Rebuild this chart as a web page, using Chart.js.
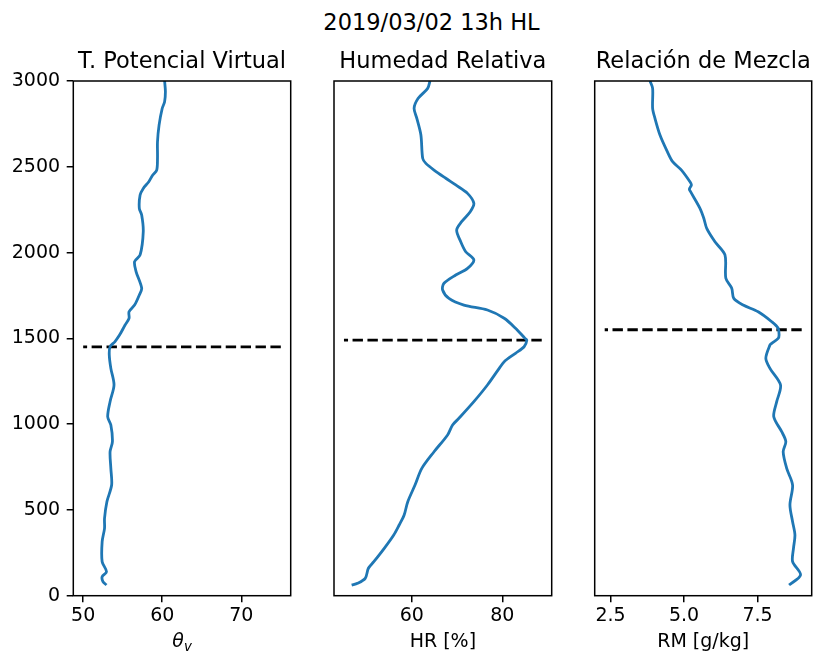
<!DOCTYPE html>
<html>
<head>
<meta charset="utf-8">
<script src="https://cdn.jsdelivr.net/npm/chart.js@4.4.1/dist/chart.umd.min.js"></script>
<style>
  body { margin: 0; background: #fff; }
  #fig { position: relative; width: 817px; height: 654px; }
  #fig canvas { position: absolute; top: 0; }
  #suptitle { position: absolute; left: 300px; width: 263px; top: 9px; text-align: center;
              font: 22.5px/27px "DejaVu Sans"; color: #000; }
</style>
</head>
<body>
<div id="fig">
  <div id="suptitle">2019/03/02 13h HL</div>
  <canvas id="tv" width="300" height="654" style="left:0"></canvas>
  <canvas id="hr" width="260" height="654" style="left:300px"></canvas>
  <canvas id="rm" width="257" height="654" style="left:560px"></canvas>
</div>
<script>
// heights (m) shared by the three soundings
const heightTicks = [0, 500, 1000, 1500, 2000, 2500, 3000];

// virtual potential temperature
const tvHeights = [3000, 2938, 2879, 2841, 2743, 2646, 2549, 2481, 2452, 2413, 2374, 2335, 2258, 2219,
  2122, 1986, 1947, 1888, 1792, 1753, 1694, 1655, 1617, 1578, 1519, 1480, 1451, 1403, 1325, 1228,
  1131, 1043, 995, 898, 839, 742, 645, 548, 451, 393, 315, 198, 140, 111, 82, 62];
const tvValues = [60.3, 60.4, 60.3, 60.0, 59.6, 59.4, 59.4, 59.3, 58.8, 58.3, 57.6, 57.2, 57.1, 57.4,
  57.6, 57.2, 56.5, 56.7, 57.4, 57.1, 56.5, 55.8, 55.8, 55.3, 54.6, 54.0, 53.4, 53.3, 53.5, 53.9,
  53.4, 53.1, 53.5, 53.7, 53.4, 53.5, 53.6, 53.0, 52.7, 52.7, 52.4, 52.4, 52.95, 52.4, 52.5, 52.95];
const tvTicks = [50, 60, 70];
const tvLayerTop = 1450;
const tvLayerSpan = [50, 75];

// relative humidity
const hrHeights = [3000, 2957, 2899, 2841, 2782, 2685, 2549, 2520, 2481, 2433, 2394, 2345, 2287, 2238,
  2180, 2131, 2063, 2005, 1957, 1908, 1869, 1821, 1782, 1733, 1694, 1665, 1617, 1559, 1500, 1490,
  1451, 1413, 1364, 1325, 1228, 1131, 1034, 995, 937, 839, 742, 645, 548, 470, 412, 354, 276, 198,
  160, 101, 72, 62];
const hrValues = [64.0, 63.5, 61.4, 60.5, 61.1, 62.0, 62.4, 63.1, 64.9, 67.5, 69.7, 72.3, 73.7, 72.9,
  71.0, 69.9, 70.8, 71.9, 73.7, 72.3, 69.7, 67.1, 66.8, 68.2, 71.5, 76.7, 80.4, 82.9, 85.0, 85.4,
  84.8, 82.9, 80.4, 79.3, 76.7, 73.7, 70.4, 69.0, 67.9, 64.9, 62.2, 60.7, 59.1, 58.3, 57.2, 56.0, 53.9,
  51.6, 50.4, 49.7, 48.0, 46.7];
const hrTicks = [60, 80];
const hrLayerTop = 1490;
const hrLayerSpan = [45.0, 88.7];

// mixing ratio
const rmHeights = [3000, 2957, 2841, 2782, 2685, 2588, 2530, 2481, 2413, 2394, 2370, 2355, 2258, 2200,
  2141, 2063, 1986, 1850, 1792, 1733, 1694, 1655, 1597, 1559, 1520, 1500, 1471, 1461, 1384, 1325,
  1228, 1131, 1043, 956, 898, 839, 742, 645, 529, 431, 354, 276, 198, 121, 62];
const rmValues = [3.84, 3.93, 3.93, 4.01, 4.18, 4.43, 4.61, 4.91, 5.20, 5.25, 5.18, 5.22, 5.54, 5.67,
  5.77, 6.05, 6.39, 6.42, 6.62, 6.69, 7.01, 7.52, 7.98, 8.20, 8.23, 8.20, 7.98, 7.92, 7.78, 7.92,
  8.28, 8.15, 8.05, 8.32, 8.46, 8.37, 8.49, 8.69, 8.60, 8.69, 8.77, 8.72, 8.69, 8.96, 8.57];
const rmTicks = [2.5, 5.0, 7.5];
const rmLayerTop = 1550;
const rmLayerSpan = [2.3, 9.0];

Chart.defaults.font.family = '"DejaVu Sans"';
Chart.defaults.color = '#000';

// axes box drawn over the curves
const frame = {
  id: 'frame',
  afterDatasetsDraw(chart) {
    const { ctx, chartArea: a } = chart;
    ctx.save();
    ctx.strokeStyle = '#000';
    ctx.lineWidth = 1.5;
    ctx.strokeRect(a.left, a.top, a.right - a.left, a.bottom - a.top);
    ctx.restore();
  }
};

// x label with a lowered subscript (θ with v below)
const subLabel = {
  id: 'subLabel',
  afterDraw(chart, args, opts) {
    if (!opts.base) return;
    const { ctx, chartArea: a } = chart;
    ctx.save();
    ctx.fillStyle = '#000';
    ctx.textBaseline = 'alphabetic';
    ctx.font = 'italic 19px "DejaVu Sans"';
    const wBase = ctx.measureText(opts.base).width;
    ctx.font = 'italic 13.3px "DejaVu Sans"';
    const wSub = ctx.measureText(opts.sub).width;
    const x0 = (a.left + a.right) / 2 - (wBase + wSub) / 2;
    ctx.font = 'italic 19px "DejaVu Sans"';
    ctx.fillText(opts.base, x0, 647);
    ctx.font = 'italic 13.3px "DejaVu Sans"';
    ctx.fillText(opts.sub, x0 + wBase, 650.5);
    ctx.restore();
  }
};

const tickGrid = { drawOnChartArea: false, drawTicks: true, tickLength: 6.6, color: '#000', lineWidth: 1.5 };

function profile(id, p) {
  const curve = p.heights.map((h, i) => ({ x: p.values[i], y: h }));
  // drawn right to left so the dash pattern starts on the right
  const layer = [{ x: p.span[1], y: p.layer }, { x: p.span[0], y: p.layer }];
  return new Chart(document.getElementById(id), {
    type: 'line',
    data: {
      datasets: [
        { data: curve, borderColor: '#1f77b4', borderWidth: 2.8, pointRadius: 0, tension: 0.3 },
        { data: layer, borderColor: '#000', borderWidth: 2.8, borderDash: [10.4, 4.5], pointRadius: 0, tension: 0 }
      ]
    },
    options: {
      responsive: false,
      animation: false,
      devicePixelRatio: 1,
      layout: { padding: { left: p.padLeft, right: p.padRight, top: 0, bottom: 0 } },
      plugins: {
        legend: { display: false },
        tooltip: { enabled: false },
        title: {
          display: true, text: p.title, fullSize: false, color: '#000',
          font: { size: 22.5, weight: 'normal', lineHeight: 1.2 },
          padding: { top: 48.3, bottom: 5.7 }
        },
        subLabel: p.subLabel || {}
      },
      scales: {
        x: {
          type: 'linear', min: p.xMin, max: p.xMax,
          afterBuildTicks: s => { s.ticks = p.ticks.map(v => ({ value: v })); },
          afterFit: s => { s.height = 58.3; },
          grid: tickGrid,
          border: { display: false },
          ticks: { padding: 2.3, font: { size: 19 }, color: '#000', maxRotation: 0, callback: p.fmt },
          title: {
            display: !!p.xLabel, text: p.xLabel, color: '#000',
            font: { size: 19, lineHeight: 1.2 },
            padding: { top: 0, bottom: 0.6 }
          }
        },
        y: {
          type: 'linear', min: 0, max: 3000, display: p.showY,
          afterBuildTicks: s => { s.ticks = heightTicks.map(v => ({ value: v })); },
          afterFit: s => { s.width = p.showY ? 73.3 : 0; },
          grid: tickGrid,
          border: { display: false },
          ticks: { padding: 6.6, font: { size: 19 }, color: '#000', callback: v => String(v) }
        }
      }
    },
    plugins: [frame, subLabel]
  });
}

profile('tv', {
  heights: tvHeights, values: tvValues, ticks: tvTicks, layer: tvLayerTop, span: tvLayerSpan,
  title: 'T. Potencial Virtual', xLabel: '', subLabel: { base: 'θ', sub: 'v' }, showY: true,
  xMin: 48.75, xMax: 76.25, padLeft: 0, padRight: 9.3, fmt: v => String(v)
});
profile('hr', {
  heights: hrHeights, values: hrValues, ticks: hrTicks, layer: hrLayerTop, span: hrLayerSpan,
  title: 'Humedad Relativa', xLabel: 'HR [%]', showY: false,
  xMin: 42.8, xMax: 90.9, padLeft: 34, padRight: 8.3, fmt: v => String(v)
});
profile('rm', {
  heights: rmHeights, values: rmValues, ticks: rmTicks, layer: rmLayerTop, span: rmLayerSpan,
  title: 'Relación de Mezcla', xLabel: 'RM [g/kg]', showY: false,
  xMin: 1.96, xMax: 9.34, padLeft: 34.7, padRight: 5.3, fmt: v => v.toFixed(1)
});
</script>
</body>
</html>
